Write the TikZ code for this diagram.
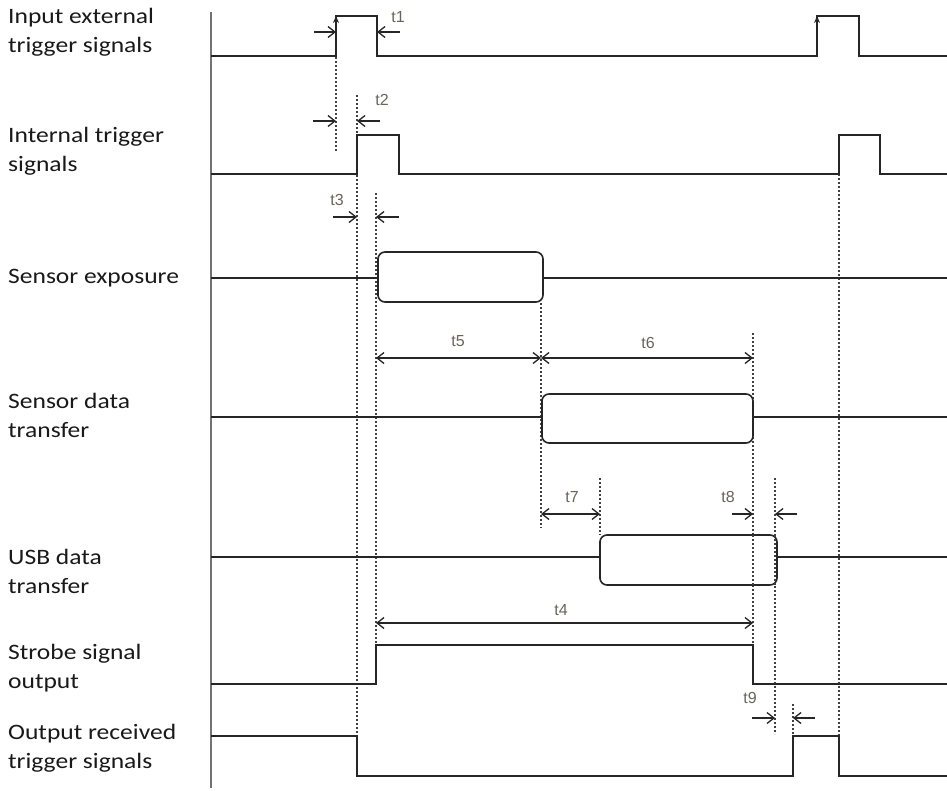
\documentclass[tikz,border=0pt]{standalone}
\usepackage{fontspec}
\setmainfont{Carlito}
\newfontfamily\lblfont[FakeStretch=1.16]{Carlito}
\newfontfamily\tfont{Liberation Sans}
\usetikzlibrary{arrows.meta}
\begin{document}
\begin{tikzpicture}[x=1pt,y=-1pt,
  sig/.style={line width=1.6pt, black!85},
  guide/.style={line width=1.5pt, black!75, dash pattern=on 1.6pt off 2.4pt},
  barb/.tip={Straight Barb[length=7pt,width=11pt,line width=1.3pt]},
  dimr/.style={line width=1.3pt, black!85, -barb},
  ddim/.style={line width=1.3pt, black!85, barb-barb},
  lbl/.style={anchor=west, font=\lblfont\fontsize{22}{29}\selectfont, align=left, inner sep=0pt, text=black!90},
  tl/.style={font=\tfont\fontsize{16}{16}\selectfont, text={rgb,255:red,105;green,100;blue,90}, inner sep=0pt},
  sbox/.style={line width=1.6pt, black!85, rounded corners=7pt, fill=white}]
\useasboundingbox (0,0) rectangle (947,790);

% axis
\coordinate (axT) at (211,12);
\coordinate (axB) at (211,788);
\draw[line width=1.8pt, black!55] (axT) -- (axB);

% labels
\node[lbl] (L1) at (8,32) {Input external\\trigger signals};
\node[lbl] (L2) at (8,151) {Internal trigger\\signals};
\node[lbl] (L3) at (8,278) {Sensor exposure};
\node[lbl] (L4) at (8,415) {Sensor data\\transfer};
\node[lbl] (L5) at (8,571) {USB data\\transfer};
\node[lbl] (L6) at (8,668) {Strobe signal\\output};
\node[lbl] (L7) at (8,748) {Output received\\trigger signals};

% dotted guides
\draw[guide] (336,57) -- (336,152);
\draw[guide] (357,95) -- (357,776);
\draw[guide] (376,193) -- (376,645);
\draw[guide] (541,303) -- (541,528);
\draw[guide] (753,333) -- (753,684);
\draw[guide] (600,478) -- (600,535);
\draw[guide] (775,478) -- (775,734);
\draw[guide] (793,704) -- (793,736);
\draw[guide] (839,174) -- (839,776);

% signal 1: input external trigger
\draw[sig] (211,56) -- (336,56) -- (336,16) -- (377,16) -- (377,56) -- (817,56) -- (817,16) -- (859,16) -- (859,56) -- (947,56);
\draw[sig,-{Stealth[length=7pt,width=6pt]}] (336,40) -- (336,16);
\draw[sig,-{Stealth[length=7pt,width=6pt]}] (817,40) -- (817,16);

% signal 2: internal trigger
\draw[sig] (211,174) -- (357,174) -- (357,135) -- (399,135) -- (399,174) -- (839,174) -- (839,135) -- (880,135) -- (880,174) -- (947,174);

% signal 3: sensor exposure
\draw[sig] (211,278) -- (378,278);
\draw[sig] (543,278) -- (947,278);
\draw[sbox] (378,252) rectangle (543,302);
\draw[line width=2.8pt, black!85] (378,258) -- (378,296);
\draw[line width=2.4pt, black!85] (386,252) -- (536,252);

% signal 4: sensor data transfer
\draw[sig] (211,417) -- (542,417);
\draw[sig] (753,417) -- (947,417);
\draw[sbox] (542,394) rectangle (753,443);
\draw[line width=2.8pt, black!85] (542,400) -- (542,437);
\draw[line width=2.4pt, black!85] (550,394) -- (746,394);

% signal 5: USB data transfer
\draw[sig] (211,557) -- (600,557);
\draw[sig] (777,557) -- (947,557);
\draw[sbox] (600,535) rectangle (777,585);
\draw[line width=2.8pt, black!85] (600,541) -- (600,579);
\draw[line width=2.2pt, black!85] (608,535) -- (770,535);
\draw[guide] (753,535) -- (753,585);
\draw[guide] (775,535) -- (775,585);

% signal 6: strobe
\draw[sig] (211,684) -- (376,684) -- (376,645) -- (753,645) -- (753,684) -- (947,684);

% signal 7: output received trigger
\draw[sig] (211,736) -- (357,736) -- (357,776) -- (793,776) -- (793,736) -- (839,736) -- (839,776) -- (947,776);

% dimension coordinates
\coordinate (t1a) at (314,32); \coordinate (t1b) at (336,32);
\coordinate (t1c) at (400,32); \coordinate (t1d) at (377,32);
\coordinate (t2a) at (313,121); \coordinate (t2b) at (336,121);
\coordinate (t2c) at (380,121); \coordinate (t2d) at (357,121);
\coordinate (t3a) at (333,217); \coordinate (t3b) at (357,217);
\coordinate (t3c) at (399,217); \coordinate (t3d) at (376,217);
\coordinate (t5a) at (376,358); \coordinate (t5b) at (541,358);
\coordinate (t6b) at (753,358);
\coordinate (t7a) at (541,514); \coordinate (t7b) at (600,514);
\coordinate (t8a) at (732,514); \coordinate (t8b) at (753,514);
\coordinate (t8c) at (797,514); \coordinate (t8d) at (775,514);
\coordinate (t4a) at (376,623); \coordinate (t4b) at (753,623);
\coordinate (t9a) at (752,718); \coordinate (t9b) at (775,718);
\coordinate (t9c) at (815,718); \coordinate (t9d) at (793,718);

\draw[dimr] (t1a) -- (t1b);
\draw[dimr] (t1c) -- (t1d);
\draw[dimr] (t2a) -- (t2b);
\draw[dimr] (t2c) -- (t2d);
\draw[dimr] (t3a) -- (t3b);
\draw[dimr] (t3c) -- (t3d);
\draw[ddim] (t5a) -- (t5b);
\draw[ddim] (t5b) -- (t6b);
\draw[ddim] (t7a) -- (t7b);
\draw[dimr] (t8a) -- (t8b);
\draw[dimr] (t8c) -- (t8d);
\draw[ddim] (t4a) -- (t4b);
\draw[dimr] (t9a) -- (t9b);
\draw[dimr] (t9c) -- (t9d);

% time labels
\node[tl] (n1) at (398,17) {t1};
\node[tl] (n2) at (382,100) {t2};
\node[tl] (n3) at (337,200) {t3};
\node[tl] (n5) at (458,341) {t5};
\node[tl] (n6) at (648,343) {t6};
\node[tl] (n7) at (572,497) {t7};
\node[tl] (n8) at (728,497) {t8};
\node[tl] (n4) at (561,610) {t4};
\node[tl] (n9) at (750,698) {t9};
\end{tikzpicture}
\end{document}
